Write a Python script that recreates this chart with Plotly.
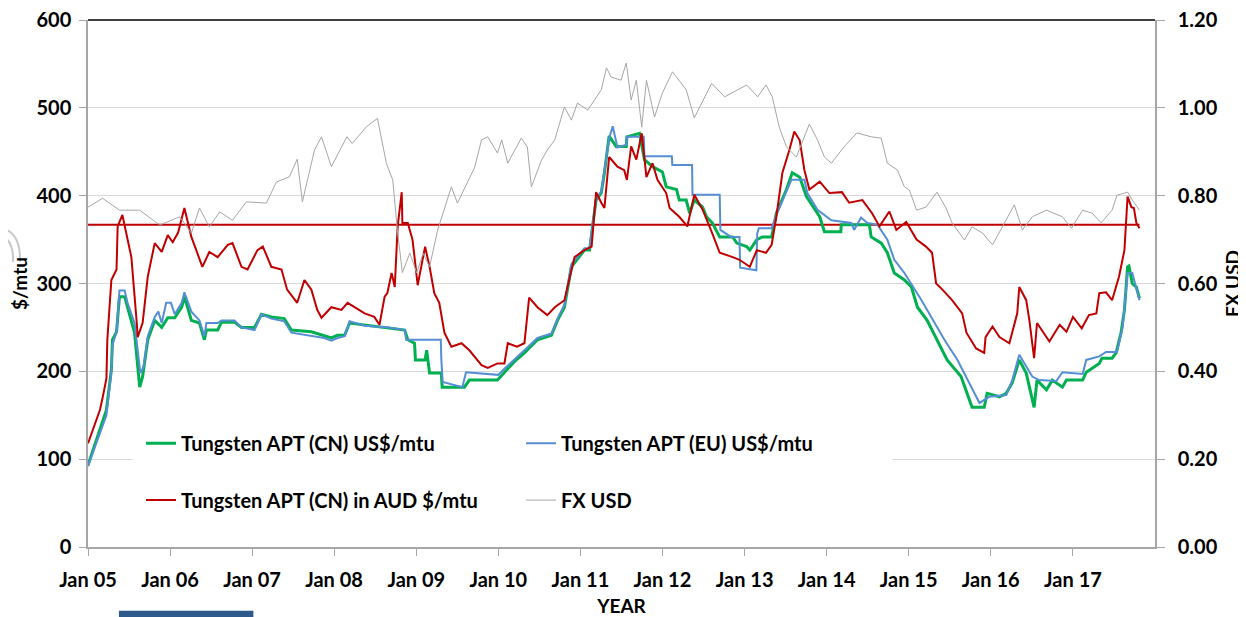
import plotly.graph_objects as go

# ---------------- data ----------------
cn_dates = ["2005-01-01","2005-02-23","2005-03-24","2005-04-15","2005-04-20","2005-05-08","2005-05-21","2005-06-13",
 "2005-06-26","2005-07-27","2005-08-19","2005-09-01","2005-09-24","2005-10-25","2005-11-25","2005-12-22","2006-01-22",
 "2006-02-22","2006-03-06","2006-04-06","2006-05-12","2006-06-03","2006-06-12","2006-08-01","2006-08-18","2006-10-15",
 "2006-11-15","2007-01-12","2007-02-12","2007-03-28","2007-05-24","2007-06-25","2007-09-22","2007-11-18","2007-12-20",
 "2008-01-16","2008-02-17","2008-03-10","2008-05-16","2008-11-10","2008-11-24","2008-12-24","2008-12-28","2009-02-09",
 "2009-02-16","2009-03-01","2009-04-22","2009-04-26","2009-08-03","2009-08-25","2009-12-28","2010-01-28","2010-03-13",
 "2010-04-27","2010-06-24","2010-08-25","2010-09-21","2010-10-22","2010-11-22","2011-01-19","2011-02-11","2011-02-24",
 "2011-03-12","2011-04-04","2011-04-18","2011-05-09","2011-06-09","2011-07-24","2011-07-27","2011-09-21","2011-10-13",
 "2011-11-18","2012-01-01","2012-01-18","2012-03-04","2012-03-16","2012-04-16","2012-05-01","2012-05-22","2012-06-28",
 "2012-07-15","2012-08-10","2012-09-12","2012-11-09","2012-11-27","2013-01-10","2013-01-24","2013-02-24","2013-03-21",
 "2013-05-01","2013-05-22","2013-07-06","2013-08-01","2013-09-03","2013-10-03","2013-12-01","2013-12-10","2013-12-22",
 "2014-03-05","2014-03-07","2014-07-10","2014-07-18","2014-09-01","2014-09-28","2014-10-29","2014-12-13","2015-01-13",
 "2015-02-09","2015-03-24","2015-05-07","2015-06-21","2015-08-22","2015-10-10","2015-12-03","2015-12-16","2016-02-09",
 "2016-03-10","2016-04-06","2016-05-07","2016-06-07","2016-07-12","2016-07-25","2016-09-05","2016-10-01","2016-11-15",
 "2016-12-03","2017-02-13","2017-03-01","2017-04-28","2017-05-10","2017-06-24","2017-07-12","2017-08-03","2017-08-18",
 "2017-09-01","2017-09-07","2017-09-22","2017-10-10","2017-10-24"]
cn_usd = [93,133,156,202,236,245,285,285,
 273,244,182,194,236,258,250,261,261,
 273,285,258,255,236,247,247,256,256,
 250,250,265,262,260,247,245,241,238,
 241,241,255,253,247,236,232,213,213,
 224,198,198,182,182,190,190,199,211,
 221,236,241,258,273,319,338,338,365,
 395,403,426,468,456,456,467,471,441,
 433,427,410,407,395,395,380,395,387,
 376,369,353,353,346,342,338,350,353,
 353,380,407,426,421,399,376,369,359,
 359,367,367,353,346,335,312,304,296,
 273,258,236,213,194,159,159,175,171,
 175,187,213,198,159,190,179,190,182,
 190,190,199,209,215,215,221,244,270,
 319,320,300,296,283]

eu_dates = ["2005-01-01","2005-02-23","2005-03-24","2005-04-15","2005-04-20","2005-05-08","2005-05-21","2005-06-13",
 "2005-06-26","2005-07-27","2005-08-15","2005-08-22","2005-09-05","2005-09-24","2005-10-25","2005-11-10","2005-11-25",
 "2005-12-15","2006-01-05","2006-01-22","2006-02-22","2006-03-06","2006-04-06","2006-05-12","2006-06-03","2006-06-12",
 "2006-08-01","2006-08-18","2006-10-15","2006-11-15","2007-01-12","2007-02-12","2007-03-28","2007-05-24","2007-06-25",
 "2007-09-22","2007-11-18","2007-12-20","2008-01-16","2008-02-17","2008-03-10","2008-05-16","2008-09-01","2008-11-10",
 "2008-11-17","2009-04-20","2009-04-22","2009-04-28","2009-07-25","2009-08-10","2010-01-01","2010-01-28","2010-03-13",
 "2010-04-27","2010-06-24","2010-08-25","2010-09-21","2010-10-22","2010-11-22","2011-01-19","2011-02-11","2011-02-24",
 "2011-03-12","2011-04-04","2011-04-18","2011-05-09","2011-05-25","2011-06-15","2011-07-24","2011-07-27","2011-10-10",
 "2011-10-13","2012-02-12","2012-02-14","2012-05-12","2012-05-14","2012-09-12","2012-09-15","2012-11-01","2012-12-09",
 "2012-12-12","2013-02-22","2013-02-26","2013-03-05","2013-05-01","2013-05-22","2013-07-06","2013-07-28","2013-09-24",
 "2013-10-07","2013-11-21","2014-01-22","2014-04-21","2014-05-03","2014-06-03","2014-07-01","2014-08-15","2014-09-28",
 "2014-10-29","2014-12-13","2015-02-27","2015-04-25","2015-06-09","2015-08-06","2015-10-06","2015-11-12","2015-12-25",
 "2016-03-10","2016-04-06","2016-05-07","2016-07-04","2016-08-04","2016-10-19","2016-11-15","2017-02-13","2017-03-01",
 "2017-04-28","2017-05-28","2017-07-16","2017-08-10","2017-09-01","2017-09-22","2017-10-24"]
eu_usd = [92,130,150,200,230,245,292,292,
 278,255,210,198,205,240,262,268,255,
 278,278,265,278,290,268,258,240,255,
 255,258,258,250,247,265,260,257,244,
 240,238,235,238,240,257,252,250,247,
 236,236,215,188,182,199,196,203,213,
 224,238,243,260,276,322,340,340,368,
 397,405,430,465,479,455,458,467,467,
 445,445,435,435,401,401,361,353,353,
 318,315,357,363,363,378,405,418,418,
 403,384,372,369,361,375,369,367,350,
 327,312,281,256,236,213,182,164,171,
 173,190,219,194,190,189,199,197,213,
 217,222,222,250,312,312,281]

aud_dates = ["2005-01-01","2005-02-23","2005-03-07","2005-03-24","2005-03-28","2005-04-15","2005-05-08","2005-05-13",
 "2005-06-03","2005-06-26","2005-07-13","2005-08-06","2005-08-10","2005-09-01","2005-09-24","2005-10-25","2005-11-25",
 "2005-12-22","2006-01-13","2006-02-06","2006-03-06","2006-03-19","2006-04-06","2006-05-25","2006-06-25","2006-08-01",
 "2006-09-15","2006-10-06","2006-11-15","2006-12-12","2007-01-25","2007-02-18","2007-03-28","2007-05-12","2007-06-06",
 "2007-07-21","2007-08-22","2007-09-22","2007-10-18","2007-11-06","2007-12-20","2008-02-03","2008-03-01","2008-05-16",
 "2008-06-28","2008-07-21","2008-08-13","2008-08-25","2008-09-13","2008-09-27","2008-10-10","2008-10-28","2008-10-31",
 "2008-11-24","2008-12-15","2008-12-24","2009-01-07","2009-02-09","2009-03-01","2009-03-22","2009-04-13","2009-05-06",
 "2009-06-06","2009-07-21","2009-08-25","2009-10-18","2009-11-15","2009-12-28","2010-01-28","2010-02-12","2010-03-25",
 "2010-04-27","2010-05-18","2010-06-24","2010-08-07","2010-09-09","2010-10-22","2010-12-06","2011-01-19","2011-02-20",
 "2011-03-12","2011-04-04","2011-04-18","2011-05-09","2011-06-15","2011-07-15","2011-07-27","2011-08-15","2011-09-07",
 "2011-10-01","2011-10-22","2011-11-18","2011-12-10","2012-01-18","2012-02-02","2012-03-16","2012-04-21","2012-05-22",
 "2012-06-28","2012-08-10","2012-09-12","2012-11-09","2012-12-09","2013-01-24","2013-02-24","2013-04-06","2013-05-01",
 "2013-05-22","2013-06-18","2013-07-19","2013-08-10","2013-09-03","2013-09-24","2013-10-16","2013-12-01","2014-01-13",
 "2014-03-10","2014-04-11","2014-06-09","2014-07-22","2014-08-24","2014-10-07","2014-11-07","2014-12-21","2015-02-05",
 "2015-03-19","2015-04-15","2015-05-03","2015-05-31","2015-07-13","2015-08-27","2015-09-15","2015-10-28","2015-12-03",
 "2015-12-09","2016-01-09","2016-02-09","2016-03-24","2016-04-06","2016-04-28","2016-05-07","2016-06-07","2016-06-21",
 "2016-07-12","2016-07-25","2016-09-18","2016-11-03","2016-12-03","2017-01-01","2017-02-09","2017-03-13","2017-04-15",
 "2017-04-28","2017-05-28","2017-06-24","2017-07-25","2017-08-18","2017-09-01","2017-09-18","2017-09-29","2017-10-10",
 "2017-10-24"]
aud_per_mtu = [118,156,170,192,236,304,316,365,
 378,350,330,255,239,255,308,346,336,
 355,347,358,386,372,353,319,336,330,
 344,346,319,316,338,342,319,316,293,
 278,304,293,270,261,273,270,278,266,
 262,253,285,289,312,296,365,404,369,
 369,350,330,298,342,319,289,278,244,
 228,232,224,207,204,209,209,232,228,
 232,284,273,264,273,281,330,338,342,
 404,392,386,444,433,429,418,456,441,
 471,421,437,418,403,386,376,365,401,
 384,357,335,330,327,319,338,335,344,
 376,426,452,473,463,429,407,416,403,
 404,392,395,380,365,382,361,370,350,
 342,335,300,293,281,266,244,226,221,
 239,251,239,232,244,266,296,281,258,
 215,255,234,253,245,262,249,264,266,
 289,290,281,308,338,399,387,386,369,
 363]
aud_average = 367

fx_dates = ["2005-01-01","2005-03-07","2005-05-21","2005-08-19","2005-11-16","2006-02-13","2006-04-06","2006-05-12",
 "2006-06-25","2006-08-10","2006-10-06","2006-12-07","2007-03-06","2007-04-19","2007-06-16","2007-07-21","2007-08-13",
 "2007-10-06","2007-11-06","2007-12-20","2008-02-27","2008-03-22","2008-05-24","2008-07-12","2008-08-21","2008-09-18",
 "2008-10-10","2008-10-31","2008-12-03","2009-01-03","2009-01-31","2009-03-01","2009-04-06","2009-06-06","2009-07-03",
 "2009-09-18","2009-10-18","2009-11-15","2009-12-28","2010-01-16","2010-02-12","2010-04-13","2010-05-10","2010-05-28",
 "2010-07-12","2010-08-07","2010-09-09","2010-10-22","2010-11-22","2010-12-19","2011-02-03","2011-03-04","2011-04-04",
 "2011-04-27","2011-05-18","2011-07-01","2011-07-24","2011-08-15","2011-09-07","2011-10-01","2011-10-22","2011-11-27",
 "2012-01-01","2012-02-15","2012-04-16","2012-05-22","2012-08-07","2012-10-04","2013-01-10","2013-02-28","2013-04-06",
 "2013-05-04","2013-06-04","2013-07-06","2013-08-19","2013-10-16","2013-11-21","2013-12-22","2014-01-22","2014-03-19",
 "2014-05-16","2014-07-18","2014-09-01","2014-09-28","2014-11-12","2014-12-13","2015-01-04","2015-02-05","2015-03-19",
 "2015-05-07","2015-06-16","2015-07-13","2015-09-06","2015-10-10","2015-11-25","2016-01-09","2016-02-21","2016-04-15",
 "2016-05-21","2016-07-04","2016-09-05","2016-11-15","2016-12-25","2017-02-13","2017-03-28","2017-05-06","2017-06-24",
 "2017-07-16","2017-09-01","2017-09-22","2017-10-24"]
fx_usd = [0.774,0.794,0.767,0.767,0.733,0.752,0.715,0.772,
 0.729,0.763,0.744,0.786,0.783,0.831,0.843,0.883,0.786,
 0.904,0.934,0.866,0.934,0.919,0.957,0.976,0.873,0.836,
 0.715,0.625,0.669,0.624,0.669,0.638,0.722,0.820,0.783,
 0.865,0.927,0.934,0.897,0.927,0.874,0.931,0.911,0.820,
 0.881,0.904,0.927,1.002,0.972,1.011,0.995,1.018,1.041,
 1.091,1.070,1.063,1.102,1.018,1.063,0.956,1.063,0.979,
 1.034,1.082,1.041,0.977,1.056,1.025,1.052,1.025,1.052,
 1.025,0.956,0.911,0.888,0.963,0.927,0.888,0.874,0.911,
 0.943,0.934,0.931,0.874,0.858,0.820,0.813,0.767,0.774,
 0.808,0.772,0.738,0.699,0.729,0.715,0.688,0.729,0.779,
 0.722,0.752,0.767,0.752,0.726,0.767,0.760,0.738,0.767,
 0.801,0.808,0.790,0.767]

left_ticks = [0, 100, 200, 300, 400, 500, 600]
right_ticks = [0.0, 0.2, 0.4, 0.6, 0.8, 1.0, 1.2]
x_ticks = ["%d-01-01" % y for y in range(2005, 2018)]

# ---------------- figure ----------------
FONT = "Lato"
fig = go.Figure()

fig.add_trace(go.Scatter(x=fx_dates, y=fx_usd, name="FX USD", yaxis="y2", mode="lines",
                         line=dict(color="#a6a6a6", width=1), legend="legend2", legendrank=2))
fig.add_trace(go.Scatter(x=[aud_dates[0], aud_dates[-1]], y=[aud_average, aud_average], mode="lines",
                         line=dict(color="#c00000", width=2), showlegend=False))
fig.add_trace(go.Scatter(x=cn_dates, y=cn_usd, name="Tungsten APT (CN) US$/mtu", mode="lines",
                         line=dict(color="#00b050", width=3), legend="legend", legendrank=1))
fig.add_trace(go.Scatter(x=eu_dates, y=eu_usd, name="Tungsten APT (EU) US$/mtu", mode="lines",
                         line=dict(color="#558ed5", width=2), legend="legend", legendrank=2))
fig.add_trace(go.Scatter(x=aud_dates, y=aud_per_mtu, name="Tungsten APT (CN) in AUD $/mtu", mode="lines",
                         line=dict(color="#c00000", width=2), legend="legend2", legendrank=1))

tickfont = dict(family=FONT, size=20, color="#000000", weight="bold")
legfont = dict(family=FONT, size=20, color="#000000", weight="bold")
titlefont = dict(family=FONT, size=19, color="#000000", weight="bold")

# the page body has an 8px default margin, so the figure is sized to fit the window
fig.update_layout(
    width=1238, height=609,
    margin=dict(l=80, r=91, t=12, b=70),
    paper_bgcolor="white", plot_bgcolor="white",
    xaxis=dict(type="date", range=["2005-01-01", "2018-01-01"], tickvals=x_ticks, tickformat="Jan %y",
               showgrid=False, showline=True, linecolor="#a6a6a6", linewidth=1.5, automargin=False,
               ticks="outside", ticklen=7, tickcolor="#a6a6a6", tickfont=tickfont, ticklabelstandoff=7,
               ticklabeloverflow="allow",
               title=dict(text="YEAR", font=titlefont, standoff=10),
               zeroline=False),
    yaxis=dict(range=[0, 600], tickvals=left_ticks, showgrid=True, gridcolor="#d9d9d9", gridwidth=1,
               showline=True, linecolor="#a6a6a6", linewidth=1.5, ticks="outside", ticklen=7,
               tickcolor="#a6a6a6", tickfont=tickfont, zeroline=False, automargin=False, ticklabelstandoff=4,
               ticklabeloverflow="allow",
               title=dict(text="$/mtu", font=titlefont, standoff=20)),
    yaxis2=dict(range=[0, 1.2], tickvals=right_ticks, tickformat=".2f", overlaying="y", side="right",
                showgrid=False, showline=True, linecolor="#a6a6a6", linewidth=1.5, ticks="outside",
                ticklen=8, tickcolor="#a6a6a6", tickfont=tickfont, zeroline=False, automargin=False,
                ticklabelstandoff=9, ticklabeloverflow="allow",
                title=dict(text="FX USD", font=titlefont, standoff=10)),
    legend=dict(orientation="h", x=0.0497, y=0.197, xanchor="left", yanchor="middle",
                bgcolor="rgba(0,0,0,0)", font=legfont, entrywidth=335, entrywidthmode="pixels",
                traceorder="normal"),
    legend2=dict(orientation="h", x=0.0497, y=0.089, xanchor="left", yanchor="middle",
                 bgcolor="rgba(0,0,0,0)", font=legfont, entrywidth=335, entrywidthmode="pixels",
                 traceorder="normal"),
    shapes=[
        # white box behind the legend (hides part of the 100 gridline, as in the original)
        dict(type="rect", xref="x domain", yref="y domain", x0=0.042, x1=0.754, y0=0.032, y1=0.241,
             fillcolor="white", line=dict(width=0), layer="above"),
        # black top border
        dict(type="line", xref="x domain", yref="y domain", x0=0, x1=1, y0=1, y1=1,
             line=dict(color="#000000", width=1.5), layer="above"),
        # decorative fragments at the page edges
        dict(type="rect", xref="paper", yref="paper", x0=0.029, x1=0.155, y0=-0.14, y1=-0.121,
             fillcolor="#2d5a8a", line=dict(width=0), layer="above"),
        dict(type="path", xref="paper", yref="paper",
             path="M -0.0825,0.605 Q -0.0630,0.600 -0.0637,0.541",
             line=dict(color="#c8c8c8", width=2), layer="above"),
        dict(type="path", xref="paper", yref="paper",
             path="M -0.0825,0.590 Q -0.0695,0.585 -0.0703,0.541",
             line=dict(color="#c8c8c8", width=2), layer="above"),
    ],
)

fig.write_html("out.html")
